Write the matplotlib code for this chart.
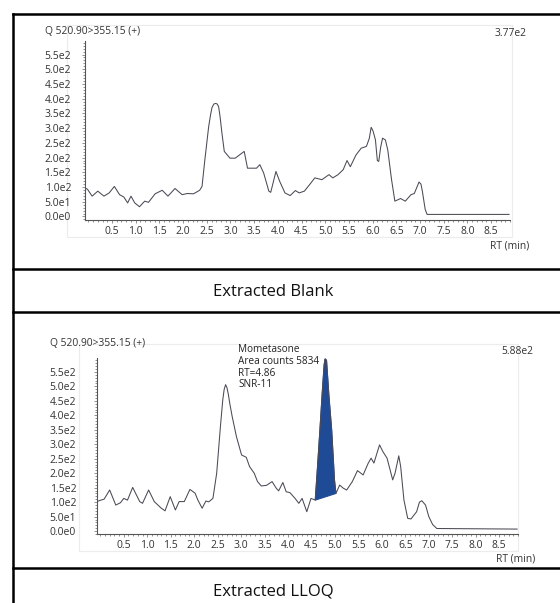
import numpy as np
import matplotlib
matplotlib.use("Agg")
import matplotlib.pyplot as plt
from matplotlib.lines import Line2D
from matplotlib.patches import Rectangle
from matplotlib.ticker import MultipleLocator

plt.rcParams['font.family'] = ['Open Sans', 'DejaVu Sans']

# Extracted blank chromatogram (RT in min, counts)
blank_rt = [-0.08, -0.02, 0.08, 0.2, 0.33, 0.44, 0.55, 0.66, 0.75, 0.83, 0.9, 0.98,
            1.08, 1.19, 1.27, 1.41, 1.56, 1.68, 1.83, 1.98, 2.09, 2.22, 2.35, 2.4,
            2.46, 2.54, 2.58, 2.61, 2.65, 2.69, 2.72, 2.75, 2.78, 2.82, 2.87, 2.99,
            3.1, 3.29, 3.36, 3.55, 3.62, 3.7, 3.81, 3.85, 3.96, 4.04, 4.15, 4.26,
            4.37, 4.45, 4.56, 4.67, 4.78, 4.93, 5.08, 5.16, 5.27, 5.38, 5.46, 5.53,
            5.65, 5.76, 5.87, 5.93, 5.97, 6.01, 6.06, 6.1, 6.13, 6.17, 6.21, 6.27,
            6.32, 6.4, 6.47, 6.59, 6.69, 6.81, 6.88, 6.95, 6.98, 7.02, 7.05, 7.11,
            7.15, 8.88]
blank_int = [97, 93, 69, 86, 69, 80, 102, 74, 66, 46, 69, 46,
             33, 52, 48, 77, 89, 69, 95, 74, 78, 77, 89, 102,
             193, 305, 345, 370, 382, 384, 382, 373, 340, 283, 221, 198,
             198, 221, 164, 164, 176, 148, 86, 82, 153, 119, 80, 71,
             88, 80, 86, 108, 131, 125, 142, 131, 142, 159, 190, 169,
             209, 232, 238, 265, 303, 290, 260, 190, 187, 235, 266, 260,
             226, 125, 52, 61, 52, 74, 78, 105, 117, 110, 86, 24,
             7, 7]

# Extracted LLOQ chromatogram
lloq_rt = [-0.07, 0.01, 0.08, 0.2, 0.33, 0.43, 0.5, 0.58, 0.69, 0.84, 0.9, 1.03,
           1.15, 1.3, 1.38, 1.49, 1.6, 1.68, 1.79, 1.91, 2.02, 2.08, 2.17, 2.25,
           2.31, 2.4, 2.48, 2.56, 2.61, 2.64, 2.67, 2.7, 2.73, 2.76, 2.81, 2.9,
           3.01, 3.11, 3.18, 3.28, 3.35, 3.43, 3.54, 3.66, 3.75, 3.8, 3.89, 3.96,
           4.04, 4.15, 4.23, 4.3, 4.4, 4.49, 4.58, 4.63, 4.68, 4.73, 4.77, 4.79,
           4.82, 4.87, 4.93, 4.99, 5.02, 5.1, 5.18, 5.25, 5.37, 5.48, 5.6, 5.71,
           5.77, 5.83, 5.95, 6.02, 6.11, 6.23, 6.28, 6.36, 6.4, 6.47, 6.55, 6.62,
           6.74, 6.8, 6.85, 6.93, 7.0, 7.08, 7.17, 8.88]
lloq_int = [102, 107, 110, 142, 90, 98, 113, 107, 151, 102, 96, 142,
            102, 79, 70, 119, 73, 102, 102, 144, 131, 107, 79, 104,
            101, 113, 200, 362, 454, 490, 506, 495, 471, 440, 396, 327,
            263, 255, 223, 200, 171, 156, 158, 171, 148, 139, 168, 136,
            133, 113, 96, 113, 67, 113, 107, 225, 350, 480, 575, 595,
            590, 470, 349, 176, 130, 159, 148, 142, 171, 209, 194, 235,
            252, 235, 298, 275, 252, 177, 200, 260, 223, 107, 44, 42,
            67, 100, 105, 90, 50, 23, 9, 7]

# integrated Mometasone peak
peak_start, peak_end = 4.58, 5.02

y_ticks = [0, 50, 100, 150, 200, 250, 300, 350, 400, 450, 500, 550]
y_labels = ['0.0e0', '5.0e1', '1.0e2', '1.5e2', '2.0e2', '2.5e2', '3.0e2',
            '3.5e2', '4.0e2', '4.5e2', '5.0e2', '5.5e2']
x_ticks = [0.5, 1.0, 1.5, 2.0, 2.5, 3.0, 3.5, 4.0, 4.5, 5.0, 5.5, 6.0, 6.5, 7.0, 7.5, 8.0, 8.5]

W, H = 560, 603


def fx(px):
    return px / W


def fy(py):
    return 1 - py / H


fig = plt.figure(figsize=(5.6, 6.03), dpi=100)

line_col = '#4a4a56'
txt_col = '#333333'


def setup(ax, ylim, ypad):
    ax.set_xlim(-0.07, 8.9)
    ax.set_ylim(*ylim)
    for s in ['top', 'right']:
        ax.spines[s].set_visible(False)
    for s in ['left', 'bottom']:
        ax.spines[s].set_color('#555555')
        ax.spines[s].set_linewidth(0.8)
    ax.set_xticks(x_ticks)
    ax.set_xticklabels(['%.1f' % v for v in x_ticks])
    ax.set_yticks(y_ticks)
    ax.set_yticklabels(y_labels)
    ax.xaxis.set_minor_locator(MultipleLocator(0.1))
    ax.yaxis.set_minor_locator(MultipleLocator(10))
    ax.tick_params(axis='both', which='both', colors='#666666', labelcolor=txt_col,
                   labelsize=7.5, width=0.5)
    ax.tick_params(axis='x', which='major', length=2.5, pad=1.5)
    ax.tick_params(axis='x', which='minor', length=1.5)
    ax.tick_params(axis='y', which='major', length=2, pad=ypad)
    ax.tick_params(axis='y', which='minor', length=1.5)
    ax.patch.set_alpha(0)


# top panel: extracted blank
ax1 = fig.add_axes([fx(85), fy(220), fx(510) - fx(85), fy(41) - fy(220)])
ax1.plot(blank_rt, blank_int, color=line_col, lw=0.75)
setup(ax1, (-12, 596), 8)

# bottom panel: extracted LLOQ
ax2 = fig.add_axes([fx(97), fy(534), fx(518) - fx(97), fy(358) - fy(534)])
ax2.plot(lloq_rt, lloq_int, color=line_col, lw=0.75)
rt = np.array(lloq_rt)
it = np.array(lloq_int)
m = (rt >= peak_start) & (rt <= peak_end)
ax2.fill(rt[m], it[m], color='#1f4b96', lw=0.8, ec='#1f4b96')
setup(ax2, (-10, 598), 13)

# faint frames behind the chromatograms
for x0, y0, x1, y1 in [(67, 25, 512, 237), (79, 344, 518, 551)]:
    fig.add_artist(Rectangle((fx(x0), fy(y1)), fx(x1) - fx(x0), fy(y0) - fy(y1),
                             transform=fig.transFigure, fill=False,
                             ec='#ececec', lw=0.8, zorder=0))

# texts
fig.text(fx(45), fy(32), 'Q 520.90>355.15 (+)', fontsize=7.4, color=txt_col, va='center')
fig.text(fx(527), fy(33), '3.77e2', fontsize=7.4, color=txt_col, va='center', ha='right')
fig.text(fx(529), fy(246), 'RT (min)', fontsize=7.4, color=txt_col, va='center', ha='right')

fig.text(fx(50), fy(343), 'Q 520.90>355.15 (+)', fontsize=7.4, color=txt_col, va='center')
fig.text(fx(533), fy(351), '5.88e2', fontsize=7.4, color=txt_col, va='center', ha='right')
fig.text(fx(535), fy(559), 'RT (min)', fontsize=7.4, color=txt_col, va='center', ha='right')
fig.text(fx(238), fy(344), 'Mometasone\nArea counts 5834\nRT=4.86\nSNR-11',
         fontsize=7.2, color='#222222', va='top', ha='left', linespacing=1.1)

fig.text(fx(273), fy(292), 'Extracted Blank', fontsize=12, color='#111111',
         ha='center', va='center')
fig.text(fx(273), fy(591), 'Extracted LLOQ', fontsize=12, color='#111111',
         ha='center', va='center')

# black table frame
lw = 1.8
fig.add_artist(Line2D([fx(13), fx(13)], [fy(14), 0], color='black', lw=lw))
for py in [14, 269, 312, 568]:
    fig.add_artist(Line2D([fx(13), 1], [fy(py), fy(py)], color='black', lw=lw))

fig.savefig('out.png', dpi=100)
